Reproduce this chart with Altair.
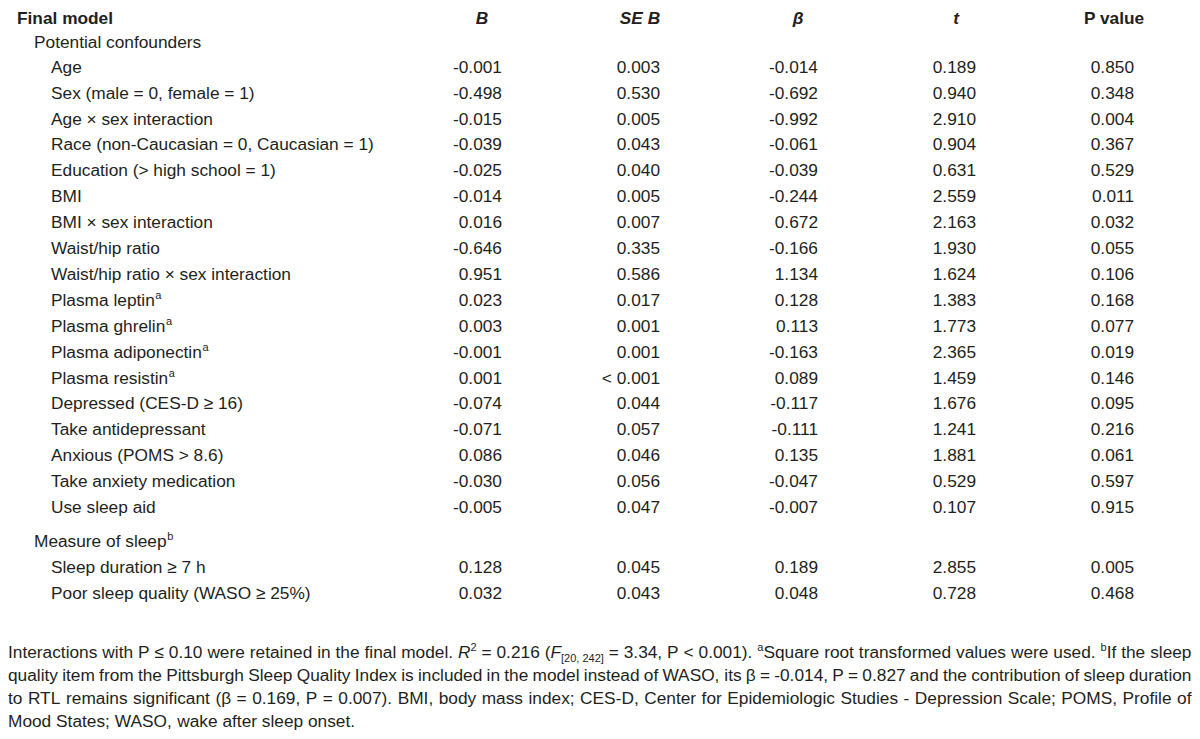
import altair as alt
import pandas as pd

# ---------------- data ----------------
header_title = "Final model"
columns = ["B", "SE B", "β", "t", "P value"]
column_italic = [True, True, True, True, False]

groups = ["Potential confounders", "Measure of sleep"]
group_sup = ["", "b"]

labels = [
    "Age",
    "Sex (male = 0, female = 1)",
    "Age × sex interaction",
    "Race (non-Caucasian = 0, Caucasian = 1)",
    "Education (> high school = 1)",
    "BMI",
    "BMI × sex interaction",
    "Waist/hip ratio",
    "Waist/hip ratio × sex interaction",
    "Plasma leptin",
    "Plasma ghrelin",
    "Plasma adiponectin",
    "Plasma resistin",
    "Depressed (CES-D ≥ 16)",
    "Take antidepressant",
    "Anxious (POMS > 8.6)",
    "Take anxiety medication",
    "Use sleep aid",
    "Sleep duration ≥ 7 h",
    "Poor sleep quality (WASO ≥ 25%)",
]
label_group = [0] * 18 + [1] * 2
label_sup = ["", "", "", "", "", "", "", "", "", "a", "a", "a", "a",
             "", "", "", "", "", "", ""]

B = ["-0.001", "-0.498", "-0.015", "-0.039", "-0.025", "-0.014", "0.016", "-0.646",
     "0.951", "0.023", "0.003", "-0.001", "0.001", "-0.074", "-0.071", "0.086",
     "-0.030", "-0.005", "0.128", "0.032"]
SE_B = ["0.003", "0.530", "0.005", "0.043", "0.040", "0.005", "0.007", "0.335",
        "0.586", "0.017", "0.001", "0.001", "< 0.001", "0.044", "0.057", "0.046",
        "0.056", "0.047", "0.045", "0.043"]
beta = ["-0.014", "-0.692", "-0.992", "-0.061", "-0.039", "-0.244", "0.672", "-0.166",
        "1.134", "0.128", "0.113", "-0.163", "0.089", "-0.117", "-0.111", "0.135",
        "-0.047", "-0.007", "0.189", "0.048"]
t_val = ["0.189", "0.940", "2.910", "0.904", "0.631", "2.559", "2.163", "1.930",
         "1.624", "1.383", "1.773", "2.365", "1.459", "1.676", "1.241", "1.881",
         "0.529", "0.107", "2.855", "0.728"]
p_val = ["0.850", "0.348", "0.004", "0.367", "0.529", "0.011", "0.032", "0.055",
         "0.106", "0.168", "0.077", "0.019", "0.146", "0.095", "0.216", "0.061",
         "0.597", "0.915", "0.005", "0.468"]
value_columns = [B, SE_B, beta, t_val, p_val]

foot_lines = [
    ["Interactions", "with", "P", "≤", "0.10", "were", "retained", "in", "the", "final",
     "model.", [("R", "i"), ("2", "sup")], "=", "0.216",
     [("(", "n"), ("F", "i"), ("[20, 242]", "sub")], "=", "3.34,", "P", "<", "0.001).",
     [("a", "sup"), ("Square", "n")], "root", "transformed", "values", "were", "used.",
     [("b", "sup"), ("If", "n")], "the", "sleep"],
    "quality item from the Pittsburgh Sleep Quality Index is included in the model "
    "instead of WASO, its β = -0.014, P = 0.827 and the contribution of sleep duration".split(),
    "to RTL remains significant (β = 0.169, P = 0.007). BMI, body mass index; CES-D, "
    "Center for Epidemiologic Studies - Depression Scale; POMS, Profile of".split(),
    "Mood States; WASO, wake after sleep onset.".split(),
]

# ---------------- layout ----------------
W, H = 1184, 723
OX, OY = 8, 8
FS = 17.3
FS_SMALL = 11
COLOR = "#231f20"
FONT = "Liberation Sans"

HW = {' ': 278, '!': 278, '"': 355, '#': 556, '$': 556, '%': 889, '&': 667, "'": 191,
      '(': 333, ')': 333, '*': 389, '+': 584, ',': 278, '-': 333, '.': 278, '/': 278,
      ':': 278, ';': 278, '<': 584, '=': 584, '>': 584, '?': 556, '@': 1015,
      'A': 667, 'B': 667, 'C': 722, 'D': 722, 'E': 667, 'F': 611, 'G': 778, 'H': 722,
      'I': 278, 'J': 500, 'K': 667, 'L': 556, 'M': 833, 'N': 722, 'O': 778, 'P': 667,
      'Q': 778, 'R': 722, 'S': 667, 'T': 611, 'U': 722, 'V': 667, 'W': 944, 'X': 667,
      'Y': 667, 'Z': 611, '[': 278, '\\': 278, ']': 278, '^': 469, '_': 556, '`': 333,
      'a': 556, 'b': 556, 'c': 500, 'd': 556, 'e': 556, 'f': 278, 'g': 556, 'h': 556,
      'i': 222, 'j': 222, 'k': 500, 'l': 222, 'm': 833, 'n': 556, 'o': 556, 'p': 556,
      'q': 556, 'r': 333, 's': 500, 't': 278, 'u': 556, 'v': 500, 'w': 722, 'x': 500,
      'y': 500, 'z': 500, '{': 334, '|': 260, '}': 334, '~': 584,
      '≤': 548, '≥': 548, 'β': 573, '×': 584}
for d in "0123456789":
    HW[d] = 556


def tw(s, fs):
    return sum(HW.get(c, 556) for c in s) * fs / 1000.0


def px(x):
    return x - OX


def py(y):
    return y - OY


HEADER_BASE = 24
GROUP_BASE = [47.5, 547.0]
ROW_START = [72.7, 573.0]
ROW_STEP = [25.9, 25.5]
X_TITLE, X_GROUP, X_ITEM = 17, 34, 51
COL_CENTER = [482, 640, 798, 956, 1114]
VAL_SHIFT = 20
FOOT_LEFT, FOOT_RIGHT = 8, 1191.5
FOOT_BASE = [658, 681, 704, 727]

# row baselines
row_base = []
counts = [0, 0]
for g in label_group:
    row_base.append(ROW_START[g] + ROW_STEP[g] * counts[g])
    counts[g] += 1

# ---------------- tables ----------------
title_df = pd.DataFrame([dict(text=header_title, x=px(X_TITLE), y=py(HEADER_BASE))])
col_it_df = pd.DataFrame([dict(text=c, x=px(cx), y=py(HEADER_BASE))
                          for c, cx, it in zip(columns, COL_CENTER, column_italic) if it])
col_up_df = pd.DataFrame([dict(text=c, x=px(cx), y=py(HEADER_BASE))
                          for c, cx, it in zip(columns, COL_CENTER, column_italic) if not it])
label_rows = [dict(text=g, x=px(X_GROUP), y=py(GROUP_BASE[i])) for i, g in enumerate(groups)]
label_rows += [dict(text=l, x=px(X_ITEM), y=py(b)) for l, b in zip(labels, row_base)]
label_df = pd.DataFrame(label_rows)

sup_rows = []
for i, (g, s) in enumerate(zip(groups, group_sup)):
    if s:
        sup_rows.append(dict(text=s, x=px(X_GROUP + tw(g, FS) + 0.5), y=py(GROUP_BASE[i] - 7)))
for l, s, b in zip(labels, label_sup, row_base):
    if s:
        sup_rows.append(dict(text=s, x=px(X_ITEM + tw(l, FS) + 0.5), y=py(b - 7)))

val_rows = []
for ci, col in enumerate(value_columns):
    for ri, v in enumerate(col):
        val_rows.append(dict(text=v, x=px(COL_CENTER[ci] + VAL_SHIFT), y=py(row_base[ri])))
val_df = pd.DataFrame(val_rows)

# footnote, justified word by word


def seg_w(text, style):
    return tw(text, FS_SMALL if style in ("sup", "sub") else FS)


foot_rows = []
for li, line in enumerate(foot_lines):
    toks = [[(t, "n")] if isinstance(t, str) else t for t in line]
    widths = [sum(seg_w(s, st) for s, st in tk) for tk in toks]
    space = tw(" ", FS)
    natural = sum(widths) + space * (len(toks) - 1)
    if li < len(foot_lines) - 1:
        gap = space + (FOOT_RIGHT - FOOT_LEFT - natural) / (len(toks) - 1)
    else:
        gap = space
    x = FOOT_LEFT
    base = FOOT_BASE[li]
    for tk, w in zip(toks, widths):
        sx = x
        for s, st in tk:
            dy = -7 if st == "sup" else (4 if st == "sub" else 0)
            foot_rows.append(dict(text=s, style=st, x=px(sx), y=py(base + dy)))
            sx += seg_w(s, st)
        x += w + gap
foot_df = pd.DataFrame(foot_rows)
for r in sup_rows:
    r["style"] = "sup"
small_df = pd.concat([pd.DataFrame(sup_rows), foot_df[foot_df["style"].isin(["sup", "sub"])]])
foot_n = foot_df[foot_df["style"] == "n"]
foot_i = foot_df[foot_df["style"] == "i"]

# ---------------- chart ----------------
xs = alt.Scale(domain=[0, W], range=[0, W], nice=False, zero=False)
ys = alt.Scale(domain=[0, H], range=[0, H], nice=False, zero=False)


def layer(df, **mark):
    base = dict(font=FONT, fontSize=FS, color=COLOR, baseline="alphabetic", align="left")
    base.update(mark)
    return alt.Chart(df).mark_text(**base).encode(
        x=alt.X("x:Q", scale=xs, axis=None),
        y=alt.Y("y:Q", scale=ys, axis=None),
        text="text:N",
    )


chart = alt.layer(
    layer(title_df, fontWeight="bold"),
    layer(col_it_df, fontWeight="bold", fontStyle="italic", align="center"),
    layer(col_up_df, fontWeight="bold", align="center"),
    layer(label_df),
    layer(val_df, align="right"),
    layer(foot_n),
    layer(foot_i, fontStyle="italic"),
    layer(small_df, fontSize=FS_SMALL),
).properties(
    width=W, height=H, padding=0,
    autosize=alt.AutoSizeParams(type="none"),
).configure_view(stroke=None)

chart.save("out.html", embed_options={"renderer": "svg", "actions": False})
